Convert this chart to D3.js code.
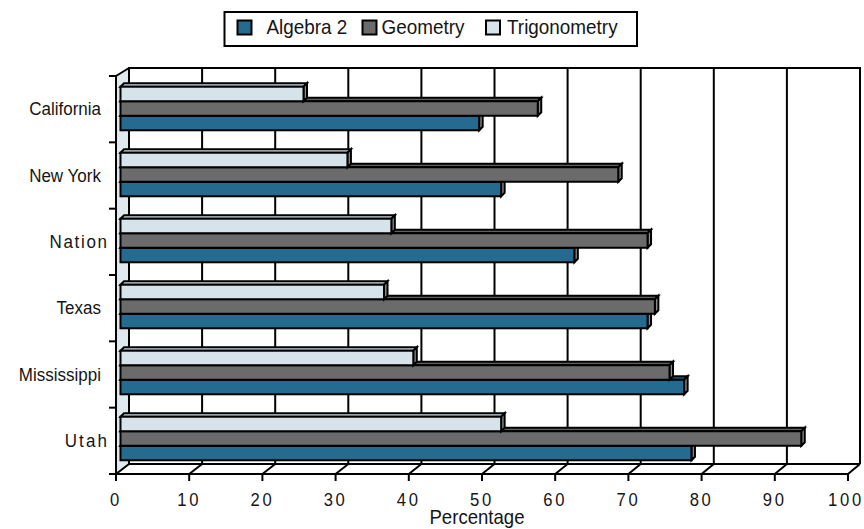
<!DOCTYPE html>
<html>
<head>
<meta charset="utf-8">
<script src="https://cdn.jsdelivr.net/npm/d3@7"></script>
<style>
  html, body { margin: 0; padding: 0; background: #ffffff; }
  svg { display: block; }
  text { font-family: "Liberation Sans", Arial, Helvetica, sans-serif; fill: #151515; }
</style>
</head>
<body>
<svg id="chart" width="864" height="529"></svg>
<script>
// ---------------- data ----------------
const categories = ["California", "New York", "Nation", "Texas", "Mississippi", "Utah"];
const seriesNames = ["Algebra 2", "Geometry", "Trigonometry"];
const algebra2 = [49, 52, 62, 72, 77, 78];
const geometry = [57, 68, 72, 73, 75, 93];
const trigonometry = [25, 31, 37, 36, 40, 52];
const xTickValues = [0, 10, 20, 30, 40, 50, 60, 70, 80, 90, 100];
const xAxisTitle = "Percentage";

// ---------------- styles ----------------
const colors = { "Algebra 2": "#256b8f", "Geometry": "#6b6b6b", "Trigonometry": "#d6e3ea" };
const topColors = { "Algebra 2": "#1f5d7d", "Geometry": "#606060", "Trigonometry": "#c8d7e0" };
const capColor = "#8c8c8c";
const wallColor = "#e0e9ee";
const spacedLabels = { "Nation": 1.8, "Utah": 2.3 };

const svg = d3.select("#chart");

// planes
const front = { x0: 116, x1: 848, yTop: 76, yBot: 474 };
const back  = { x0: 129, x1: 860, yTop: 68, yBot: 464 };

const xFront = d3.scaleLinear().domain([0, 100]).range([front.x0, front.x1]);
const xBack  = d3.scaleLinear().domain([0, 100]).range([back.x0, back.x1]);
const xBar   = d3.scaleLinear().domain([0, 100]).range([120.5, 852.5]);

const yFront = d3.scaleBand().domain(categories).range([front.yTop, front.yBot]).padding(0);
const yBar = d3.scaleBand().domain(categories).range([75.5, 471.5]).paddingInner(0.34).paddingOuter(0.17);
const barOrder = ["Trigonometry", "Geometry", "Algebra 2"]; // top to bottom within group
const yInner = d3.scaleBand().domain(barOrder).range([0, yBar.bandwidth()]).padding(0);
const depth = { dx: 3.5, dy: -3.5 };

const lineW = 2;

// side wall
svg.append("path")
  .attr("d", `M${front.x0},${front.yTop}L${back.x0},${back.yTop}L${back.x0},${back.yBot}L${front.x0},${front.yBot}Z`)
  .attr("fill", wallColor).attr("stroke", "none");

// back wall frame
svg.append("path")
  .attr("d", `M${back.x0},${back.yBot}L${back.x0},${back.yTop}L${back.x1},${back.yTop}L${back.x1},${back.yBot}`)
  .attr("fill", "none").attr("stroke", "#000").attr("stroke-width", lineW);
// side wall top edge
svg.append("line")
  .attr("x1", front.x0).attr("y1", front.yTop).attr("x2", back.x0).attr("y2", back.yTop)
  .attr("stroke", "#000").attr("stroke-width", lineW);

// gridlines on back wall
svg.append("g").selectAll("line")
  .data(xTickValues.filter(v => v > 0 && v < 100))
  .join("line")
  .attr("x1", d => xBack(d)).attr("x2", d => xBack(d))
  .attr("y1", back.yBot).attr("y2", back.yTop)
  .attr("stroke", "#000").attr("stroke-width", lineW);

// floor
svg.append("line")
  .attr("x1", back.x0).attr("x2", back.x1).attr("y1", back.yBot).attr("y2", back.yBot)
  .attr("stroke", "#000").attr("stroke-width", lineW);
svg.append("g").selectAll("line")
  .data(xTickValues)
  .join("line")
  .attr("x1", d => xFront(d)).attr("y1", front.yBot)
  .attr("x2", d => xBack(d)).attr("y2", back.yBot)
  .attr("stroke", "#000").attr("stroke-width", lineW);

// bars
const seriesData = { "Algebra 2": algebra2, "Geometry": geometry, "Trigonometry": trigonometry };
const drawOrder = ["Algebra 2", "Geometry", "Trigonometry"];
const barsG = svg.append("g");
categories.forEach((cat, ci) => {
  drawOrder.forEach(s => {
    const v = seriesData[s][ci];
    const x0 = xBar(0), x1 = xBar(v);
    const y0 = yBar(cat) + yInner(s), y1 = y0 + yInner.bandwidth();
    const g = barsG.append("g");
    // top face
    g.append("path")
      .attr("d", `M${x0},${y0}L${x0 + depth.dx},${y0 + depth.dy}L${x1 + depth.dx},${y0 + depth.dy}L${x1},${y0}Z`)
      .attr("fill", topColors[s]).attr("stroke", "#000").attr("stroke-width", lineW).attr("stroke-linejoin", "miter");
    // end cap
    g.append("path")
      .attr("d", `M${x1},${y0}L${x1 + depth.dx},${y0 + depth.dy}L${x1 + depth.dx},${y1 + depth.dy}L${x1},${y1}Z`)
      .attr("fill", capColor).attr("stroke", "#000").attr("stroke-width", lineW).attr("stroke-linejoin", "miter");
    // front face
    g.append("rect")
      .attr("x", x0).attr("y", y0).attr("width", x1 - x0).attr("height", y1 - y0)
      .attr("fill", colors[s]).attr("stroke", "#000").attr("stroke-width", lineW);
  });
});

// front axes
svg.append("line")
  .attr("x1", front.x0).attr("x2", front.x1).attr("y1", front.yBot).attr("y2", front.yBot)
  .attr("stroke", "#000").attr("stroke-width", lineW);
svg.append("line")
  .attr("x1", front.x0).attr("x2", front.x0).attr("y1", front.yTop).attr("y2", front.yBot + 7)
  .attr("stroke", "#000").attr("stroke-width", lineW);

// x ticks
svg.append("g").selectAll("line")
  .data(xTickValues)
  .join("line")
  .attr("x1", d => xFront(d)).attr("x2", d => xFront(d))
  .attr("y1", front.yBot).attr("y2", front.yBot + 7)
  .attr("stroke", "#000").attr("stroke-width", lineW);

// y ticks at band boundaries
const yBounds = categories.map(c => yFront(c)).concat([front.yBot]);
svg.append("g").selectAll("line")
  .data(yBounds)
  .join("line")
  .attr("x1", front.x0 - 7).attr("x2", front.x0)
  .attr("y1", d => d).attr("y2", d => d)
  .attr("stroke", "#000").attr("stroke-width", lineW);

// text helper
function addText(x, y, str, o) {
  const sx = o.sx || 0.9;
  const ls = o.ls || 0;
  let shift = 0;
  if (ls && o.anchor === "end") shift = ls * sx;
  return svg.append("text")
    .attr("transform", `translate(${x + shift},${y}) scale(${sx},1)`)
    .attr("text-anchor", o.anchor || "start")
    .style("font-size", o.size + "px")
    .style("letter-spacing", ls + "px")
    .text(str);
}

// x tick labels
xTickValues.forEach(v => addText(xFront(v) - (v === 100 ? 2 : 0), 506, String(v), { size: 18.5, sx: 0.9, ls: 3, anchor: "middle" }));

// x axis title
addText(477, 523.5, xAxisTitle, { size: 20, sx: 0.93, anchor: "middle" });

// y labels
categories.forEach(c => {
  const ls = spacedLabels[c] || 0;
  const xEnd = ls ? 107 : 101;
  addText(xEnd, yFront(c) + yFront.bandwidth() / 2 + 6, c, { size: 18.5, sx: 0.92, ls: ls, anchor: "end" });
});

// legend
const legend = svg.append("g");
legend.append("rect").attr("x", 224.5).attr("y", 12).attr("width", 412.5).attr("height", 34)
  .attr("fill", "#fff").attr("stroke", "#000").attr("stroke-width", lineW);
const legendMarkX = [237.5, 362.5, 486];
const legendTextX = [266.5, 381.5, 507];
seriesNames.forEach((s, i) => {
  legend.append("rect").attr("x", legendMarkX[i]).attr("y", 20.5).attr("width", 14).attr("height", 14)
    .attr("fill", colors[s]).attr("stroke", "#000").attr("stroke-width", lineW);
  addText(legendTextX[i], 34, s, { size: 21, sx: 0.9, anchor: "start" });
});
</script>
</body>
</html>
